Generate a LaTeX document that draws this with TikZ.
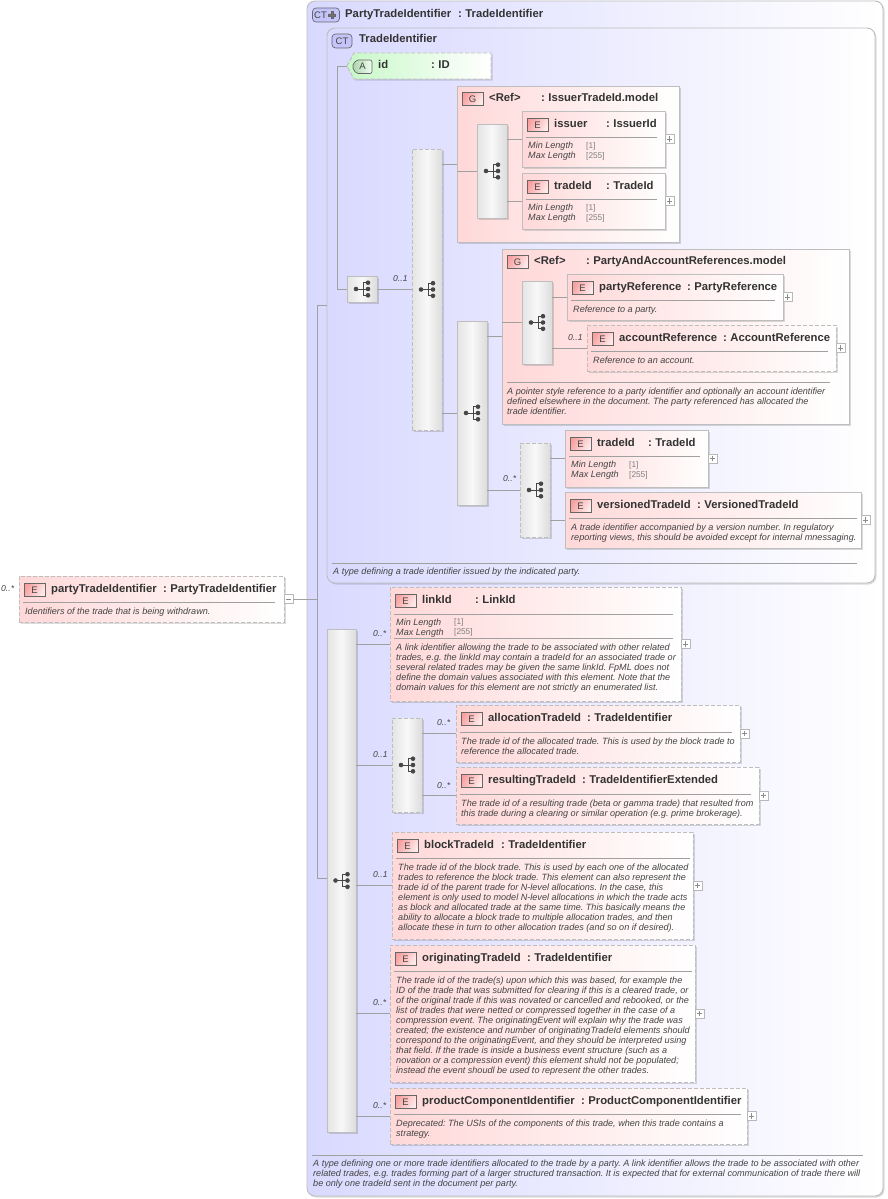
\documentclass[tikz,border=0pt]{standalone}
\usepackage{fontspec}
\setmainfont{Liberation Sans}
\usetikzlibrary{shadows,calc}
\definecolor{edgeC}{HTML}{BEBEBE}
\definecolor{lineC}{HTML}{A0A0A0}
\definecolor{txtC}{HTML}{333333}
\definecolor{descC}{HTML}{444444}
\definecolor{pinkL}{HTML}{FFD8D8}
\definecolor{blueL}{HTML}{D9D9FF}
\definecolor{blueM}{HTML}{C4C4FA}
\definecolor{greenL}{HTML}{C8F8C8}
\definecolor{grayL}{HTML}{E4E4E4}
\definecolor{grayM}{HTML}{F8F8F8}
\definecolor{grayR}{HTML}{DCDCDC}
\definecolor{iconL}{HTML}{F8A0A0}
\definecolor{iconR}{HTML}{FFEAEA}
\tikzset{
 x=1pt,y=-1pt,
 shad/.style={drop shadow={shadow xshift=1.5pt,shadow yshift=-1.5pt,fill=black,opacity=.14}},
 basebox/.style={inner sep=0pt,outer sep=0pt,anchor=north west,shad},
 solidedge/.style={draw=edgeC,line width=.95pt},
 dashedge/.style={draw=edgeC,line width=.95pt,dash pattern=on 4pt off 2pt},
 pinkbox/.style={basebox,solidedge,left color=pinkL,right color=white},
 pinkdash/.style={basebox,dashedge,left color=pinkL,right color=white},
 seqbox/.style={basebox,solidedge,left color=grayL,right color=grayR,middle color=grayM},
 seqdash/.style={basebox,dashedge,left color=grayL,right color=grayR,middle color=grayM},
 ctbox/.style={basebox,solidedge,rounded corners=8pt,left color=blueL,right color=white},
 wire/.style={draw=lineC,line width=.8pt},
 sepline/.style={draw=lineC,line width=.8pt},
 icon/.style={inner sep=0pt,outer sep=0pt,draw=black!60,line width=.65pt,minimum width=21pt,minimum height=13.5pt,font=\fontsize{9.5}{10}\selectfont,text=descC,anchor=north west},
 eicon/.style={icon,left color=iconL,right color=iconR,shading angle=60},
 cticon/.style={icon,rounded corners=3.5pt,fill=blueM,minimum height=14pt},
 nametext/.style={inner sep=0pt,anchor=base west,font=\fontsize{11.3}{12}\selectfont\bfseries,text=txtC},
 desctext/.style={inner sep=0pt,yshift=-2.5pt,anchor=north west,align=left,font=\fontsize{9.08}{10}\selectfont\itshape\frenchspacing,text=descC},
 valtext/.style={inner sep=0pt,yshift=-2.5pt,anchor=north west,align=left,font=\fontsize{8.3}{10}\selectfont,text=black!50},
 occ/.style={inner sep=0pt,anchor=base west,font=\fontsize{8.6}{10}\selectfont\itshape,text=descC},
 pm/.style={inner sep=0pt,outer sep=0pt,draw=black!28,fill=white,line width=.7pt,minimum size=9pt,anchor=west},
 pmline/.style={draw=black!45,line width=.6pt},
 dot/.style={fill=black!72,draw=none},
 twig/.style={draw=black!72,line width=1pt},
}
\newcommand\bx[6][]{\node[#1,minimum width={(#5-#3)*1pt},minimum height={(#6-#4)*1pt}] (#2) at (#3,#4) {};}
% id, x1, y1, letter, name, colon x, type
\newcommand\ttl[7]{%
 \node[eicon] (#1icon) at (#2+5,#3+7) {#4};
 \node[nametext] (#1name) at (#2+32,#3+16) {#5};
 \node[nametext] (#1type) at (#6,#3+16) {:\hspace{3.4pt}#7};
}
\newcommand\seprule[3]{\draw[sepline] (#1,#3) -- (#2,#3);}
% tree icon on a compartment box
\newcommand\tree[1]{%
 \path[dot] (#1.center) ++(-6,0) circle (2.3);
 \path[dot] (#1.center) ++(6,-6.3) circle (2.3);
 \path[dot] (#1.center) ++(6,0) circle (2.3);
 \path[dot] (#1.center) ++(6,6.3) circle (2.3);
 \draw[twig] ($(#1.center)+(-6,0)$) -- ($(#1.center)+(6,0)$);
 \draw[twig] ($(#1.center)+(6,-6.3)$) -- ($(#1.center)+(1,-6.3)$) -- ($(#1.center)+(1,6.3)$) -- ($(#1.center)+(6,6.3)$);
}
\newcommand\plusb[1]{%
 \node[pm] (#1pm) at (#1.east) {};
 \draw[pmline] ([xshift=1.8pt]#1pm.west) -- ([xshift=-1.8pt]#1pm.east);
 \draw[pmline] ([yshift=-1.8pt]#1pm.north) -- ([yshift=1.8pt]#1pm.south);
}
\newcommand\lims[4]{% id, x, valx, y
 \node[desctext] (#1lim) at (#2,#4) {Min Length\\Max Length};
 \node[valtext] (#1val) at (#3,#4) {{[1]}\\{[255]}};
}
\begin{document}
\begin{tikzpicture}
\useasboundingbox[fill=white] (0,0) rectangle (887,1199);

% ---------- outer complex type
\bx[ctbox]{outer}{307}{1}{883}{1196}
\node[cticon,minimum width=27pt] (outericon) at (312.5,8) {\hspace{-11pt}CT};
\draw[draw=black!60,fill=black!55,line width=.3pt] (332,15) ++(-3.6,-1) -- ++(2.6,0) -- ++(0,-2.6) -- ++(2,0) -- ++(0,2.6) -- ++(2.6,0) -- ++(0,2) -- ++(-2.6,0) -- ++(0,2.6) -- ++(-2,0) -- ++(0,-2.6) -- ++(-2.6,0) -- cycle;
\node[nametext] (outername) at (345,18) {PartyTradeIdentifier};
\node[nametext] (outertype) at (458,18) {:\hspace{3.4pt}TradeIdentifier};
\seprule{312}{863}{1155}
\node[desctext] (outerdesc) at (313,1157) {A type defining one or more trade identifiers allocated to the trade by a party. A link identifier allows the trade to be associated with other\\related trades, e.g. trades forming part of a larger structured transaction. It is expected that for external communication of trade there will\\be only one tradeId sent in the document per party.};

% ---------- inner complex type
\bx[ctbox]{inner}{327}{28}{875}{583}
\node[cticon,minimum width=20pt] (innericon) at (332,34) {CT};
\node[nametext] (innername) at (359,43) {TradeIdentifier};
\seprule{332}{857}{563}
\node[desctext] (innerdesc) at (333,565) {A type defining a trade identifier issued by the indicated party.};

% ---------- attribute
\coordinate (idtip) at (347,66);
\draw[dashedge,left color=greenL,right color=white,shad] (idtip) -- (354,53) -- (491,53) -- (491,79) -- (354,79) -- cycle;
\draw[draw=black!60,line width=.65pt,rounded corners=2pt,left color=greenL!85!black,right color=greenL!25!white] (352,66.5) -- (356,60) -- (372,60) -- (372,73.5) -- (356,73.5) -- cycle;
\node[inner sep=0pt,outer sep=0pt,font=\fontsize{9.5}{10}\selectfont,text=descC] (idicon) at (362.5,66.5) {A};
\node[nametext] (idname) at (378,69) {id};
\node[nametext] (idtype) at (431,69) {:\hspace{3.4pt}ID};

% ---------- compartments, first branch
\bx[seqbox]{choiceA}{347}{276}{377}{302}
\tree{choiceA}
\bx[seqdash]{seqA}{412}{149}{442}{430}
\tree{seqA}
\node[occ] (occA) at (393,281) {0..1};

% group IssuerTradeId.model
\bx[pinkbox]{grpA}{457}{86}{679}{242}
\node[eicon] (grpAicon) at (462,92) {G};
\node[nametext] (grpAname) at (489,101) {<Ref>};
\node[nametext] (grpAtype) at (541,101) {:\hspace{3.4pt}IssuerTradeId.model};
\bx[seqbox]{seqB}{477}{124}{507}{218}
\tree{seqB}
\bx[pinkbox]{issuer}{522}{111}{665}{167}
\ttl{issuer}{522}{111}{E}{issuer}{606}{IssuerId}
\seprule{526}{657}{137}
\lims{issuer}{528}{586}{139.5}
\plusb{issuer}
\bx[pinkbox]{tradeA}{522}{173}{665}{229}
\ttl{tradeA}{522}{173}{E}{tradeId}{606}{TradeId}
\seprule{526}{657}{199}
\lims{tradeA}{528}{586}{201.5}
\plusb{tradeA}

% second sequence
\bx[seqbox]{seqC}{457}{321}{487}{505}
\tree{seqC}
\bx[pinkbox]{grpB}{502}{249}{849}{424}
\node[eicon] (grpBicon) at (507,255) {G};
\node[nametext] (grpBname) at (534,264) {<Ref>};
\node[nametext] (grpBtype) at (586,264) {:\hspace{3.4pt}PartyAndAccountReferences.model};
\bx[seqbox]{seqD}{522}{281}{552}{364}
\tree{seqD}
\bx[pinkbox]{partyref}{567}{274}{783}{320}
\ttl{partyref}{567}{274}{E}{partyReference}{687}{PartyReference}
\seprule{571}{775}{300}
\node[desctext] (partyrefdesc) at (573,303) {Reference to a party.};
\plusb{partyref}
\bx[pinkdash]{acctref}{587}{325}{836}{371}
\ttl{acctref}{587}{325}{E}{accountReference}{723}{AccountReference}
\seprule{591}{828}{351}
\node[desctext] (acctrefdesc) at (593,354) {Reference to an account.};
\plusb{acctref}
\node[occ] (occAcct) at (568,340) {0..1};
\seprule{507}{830}{382}
\node[desctext] (grpBdesc) at (507,385) {A pointer style reference to a party identifier and optionally an account identifier\\defined elsewhere in the document. The party referenced has allocated the\\trade identifier.};

\bx[seqdash]{seqE}{520}{443}{550}{537}
\tree{seqE}
\node[occ] (occE) at (503,481) {0..*};
\bx[pinkbox]{tradeB}{565}{430}{708}{487}
\ttl{tradeB}{565}{430}{E}{tradeId}{648}{TradeId}
\seprule{569}{700}{456}
\lims{tradeB}{571}{629}{458.5}
\plusb{tradeB}
\bx[pinkbox]{versioned}{565}{492}{861}{548}
\ttl{versioned}{565}{492}{E}{versionedTradeId}{697}{VersionedTradeId}
\seprule{569}{857}{518}
\node[desctext] (versioneddesc) at (571,521) {A trade identifier accompanied by a version number. In regulatory\\reporting views, this should be avoided except for internal mnessaging.};
\plusb{versioned}

% ---------- lower sequence
\bx[seqbox]{seqBig}{327}{629}{356}{1132}
\tree{seqBig}
\bx[pinkdash]{linkid}{390}{587}{681}{701}
\ttl{linkid}{390}{587}{E}{linkId}{475}{LinkId}
\seprule{394}{673}{614}
\lims{linkid}{396}{454}{616}
\seprule{394}{673}{638}
\node[desctext] (linkiddesc) at (396,641) {A link identifier allowing the trade to be associated with other related\\trades, e.g. the linkId may contain a tradeId for an associated trade or\\several related trades may be given the same linkId. FpML does not\\define the domain values associated with this element. Note that the\\domain values for this element are not strictly an enumerated list.};
\plusb{linkid}
\node[occ] (occLink) at (373,636) {0..*};

\bx[seqdash]{choiceB}{392}{718}{422}{812}
\tree{choiceB}
\node[occ] (occChoice) at (373,757) {0..1};
\bx[pinkdash]{alloc}{456}{705}{740}{762}
\ttl{alloc}{456}{705}{E}{allocationTradeId}{587}{TradeIdentifier}
\seprule{460}{732}{732}
\node[desctext] (allocdesc) at (461,735) {The trade id of the allocated trade. This is used by the block trade to\\reference the allocated trade.};
\plusb{alloc}
\node[occ] (occAlloc) at (437,725) {0..*};
\bx[pinkdash]{result}{456}{767}{759}{824}
\ttl{result}{456}{767}{E}{resultingTradeId}{582}{TradeIdentifierExtended}
\seprule{460}{751}{794}
\node[desctext] (resultdesc) at (461,797) {The trade id of a resulting trade (beta or gamma trade) that resulted from\\this trade during a clearing or similar operation (e.g. prime brokerage).};
\plusb{result}
\node[occ] (occResult) at (437,788) {0..*};

\bx[pinkdash]{block}{392}{832}{693}{939}
\ttl{block}{392}{832}{E}{blockTradeId}{501}{TradeIdentifier}
\seprule{396}{690}{858}
\node[desctext] (blockdesc) at (398,861) {The trade id of the block trade. This is used by each one of the allocated\\trades to reference the block trade. This element can also represent the\\trade id of the parent trade for N-level allocations. In the case, this\\element is only used to model N-level allocations in which the trade acts\\as block and allocated trade at the same time. This basically means the\\ability to allocate a block trade to multiple allocation trades, and then\\allocate these in turn to other allocation trades (and so on if desired).};
\plusb{block}
\node[occ] (occBlock) at (373,877) {0..1};

\bx[pinkdash]{orig}{390}{945}{695}{1082}
\ttl{orig}{390}{945}{E}{originatingTradeId}{527}{TradeIdentifier}
\seprule{394}{692}{971}
\node[desctext] (origdesc) at (396,974) {The trade id of the trade(s) upon which this was based, for example the\\ID of the trade that was submitted for clearing if this is a cleared trade, or\\of the original trade if this was novated or cancelled and rebooked, or the\\list of trades that were netted or compressed together in the case of a\\compression event. The originatingEvent will explain why the trade was\\created; the existence and number of originatingTradeId elements should\\correspond to the originatingEvent, and they should be interpreted using\\that field. If the trade is inside a business event structure (such as a\\novation or a compression event) this element shuld not be populated;\\instead the event shoudl be used to represent the other trades.};
\plusb{orig}
\node[occ] (occOrig) at (373,1005) {0..*};

\bx[pinkdash]{product}{390}{1088}{747}{1144}
\ttl{product}{390}{1088}{E}{productComponentIdentifier}{581}{ProductComponentIdentifier}
\seprule{394}{741}{1114}
\node[desctext] (productdesc) at (396,1117) {Deprecated: The USIs of the components of this trade, when this trade contains a\\strategy.};
\plusb{product}
\node[occ] (occProduct) at (373,1108) {0..*};

% ---------- root element
\bx[pinkdash]{party}{19}{576}{284}{622}
\ttl{party}{19}{576}{E}{partyTradeIdentifier}{163}{PartyTradeIdentifier}
\seprule{23}{275}{602}
\node[desctext] (partydesc) at (25,605) {Identifiers of the trade that is being withdrawn.};
\node[occ] (occParty) at (1,591) {0..*};
\node[pm] (partypm) at (party.east) {};
\draw[pmline] ([xshift=1.8pt]partypm.west) -- ([xshift=-1.8pt]partypm.east);

% ---------- connectors
\coordinate (trunkTop) at (317,305);
\coordinate (trunkBot) at (317,878);
\draw[wire] (partypm.east) -- (party.east -| trunkTop);
\draw[wire] (trunkTop) -- (trunkBot);
\draw[wire] (trunkTop) -- (trunkTop -| inner.west);
\draw[wire] (trunkBot) -- (seqBig.west |- trunkBot);
\coordinate (innerTrunk) at (337,67);
\draw[wire] (idtip) -- (idtip -| innerTrunk) -- (innerTrunk |- choiceA.west) -- (choiceA.west);
\draw[wire] (choiceA.east) -- (seqA.west |- choiceA.east);
\draw[wire] (seqA.east |- grpA.west) -- (grpA.west);
\draw[wire] (seqA.east |- seqC.west) -- (seqC.west);
\draw[wire] (grpA.west |- seqB.west) -- (seqB.west);
\draw[wire] (seqB.east |- issuer.west) -- (issuer.west);
\draw[wire] (seqB.east |- tradeA.west) -- (tradeA.west);
\draw[wire] (seqC.east |- grpB.west) -- (grpB.west);
\draw[wire] (seqC.east |- seqE.west) -- (seqE.west);
\draw[wire] (grpB.west |- seqD.west) -- (seqD.west);
\draw[wire] (seqD.east |- partyref.west) -- (partyref.west);
\draw[wire] (seqD.east |- acctref.west) -- (acctref.west);
\draw[wire] (seqE.east |- tradeB.west) -- (tradeB.west);
\draw[wire] (seqE.east |- versioned.west) -- (versioned.west);
\draw[wire] (seqBig.east |- linkid.west) -- (linkid.west);
\draw[wire] (seqBig.east |- choiceB.west) -- (choiceB.west);
\draw[wire] (seqBig.east |- block.west) -- (block.west);
\draw[wire] (seqBig.east |- orig.west) -- (orig.west);
\draw[wire] (seqBig.east |- product.west) -- (product.west);
\draw[wire] (choiceB.east |- alloc.west) -- (alloc.west);
\draw[wire] (choiceB.east |- result.west) -- (result.west);
\end{tikzpicture}
\end{document}
